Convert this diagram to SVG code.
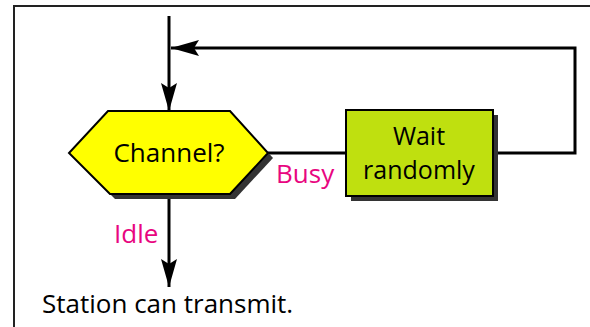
<svg xmlns="http://www.w3.org/2000/svg" width="590" height="327" viewBox="0 0 590 327">
<style>
.t{font-family:"Open Sans","Liberation Sans",sans-serif;font-size:26px;fill:#000}
.w{font-family:"Open Sans","Liberation Sans",sans-serif;font-size:25px;fill:#000}
.lbl{font-family:"Open Sans","Liberation Sans",sans-serif;font-size:26px;fill:#e8067f}
.c{fill:none;stroke:#000;stroke-width:3}
.sh{fill:#333}
</style>
<defs>
<marker id="ah" markerUnits="userSpaceOnUse" markerWidth="28" markerHeight="16" viewBox="0 0 28 16" refX="28" refY="8" orient="auto">
<path d="M0,0 L28,8 L0,16 L5,8 Z" fill="#000"/>
</marker>
</defs>
<rect width="590" height="327" fill="#fff"/>
<g id="frame">
<path d="M14,327 V6 H590" fill="none" stroke="#222" stroke-width="2"/>
</g>
<g id="connectors">
<path class="c" d="M169,16 V111" marker-end="url(#ah)"/>
<path class="c" d="M493,153 H575 V48 H171" marker-end="url(#ah)"/>
<path class="c" d="M268,153 H346"/>
<path class="c" d="M169,194 V287" marker-end="url(#ah)"/>
</g>
<g id="channel">
<polygon class="sh" points="113,116 235,116 273,158 235,199 115,199 74,158"/>
<polygon points="108,111 230,111 268,153 230,194 110,194 69,153" fill="#ffff00" stroke="#000" stroke-width="2"/>
<text class="t" x="169" y="162" text-anchor="middle">Channel?</text>
</g>
<g id="wait">
<rect class="sh" x="351" y="115" width="147" height="86"/>
<rect x="346" y="110" width="147" height="86" fill="#bfe00f" stroke="#000" stroke-width="2"/>
<text class="w" x="419" y="145" text-anchor="middle">Wait</text>
<text class="w" x="419" y="179" text-anchor="middle">randomly</text>
</g>
<g id="labels">
<text class="lbl" x="276" y="183">Busy</text>
<text class="lbl" x="114" y="243">Idle</text>
</g>
<g id="station">
<text class="t" x="42" y="313">Station can transmit.</text>
</g>
</svg>
